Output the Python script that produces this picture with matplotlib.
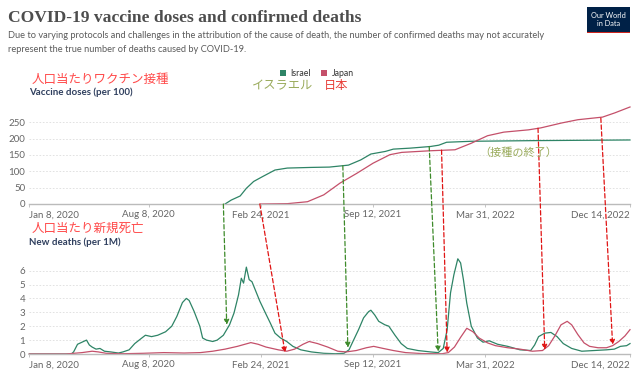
import numpy as np
import matplotlib
matplotlib.use("Agg")
import matplotlib.pyplot as plt
import matplotlib.dates as mdates
from matplotlib.patches import ConnectionPatch, Rectangle

plt.rcParams['font.family'] = ['Lato', 'Noto Sans CJK JP', 'DejaVu Sans']

# ---- data (x values are days since START) ----
START = np.datetime64('2020-01-08')
END = np.datetime64('2022-12-14')

tick_dates = ['2020-01-08', '2020-08-08', '2021-02-24', '2021-09-12', '2022-03-31', '2022-12-14']
tick_labels = ['Jan 8, 2020', 'Aug 8, 2020', 'Feb 24, 2021', 'Sep 12, 2021', 'Mar 31, 2022', 'Dec 14, 2022']

israel_doses_days = [349, 360, 376, 387, 400, 416, 438, 460, 503, 535, 569, 591, 609, 635, 649,
                     679, 715, 730, 744, 788, 900, 1071]
israel_doses = [0, 12, 24.6, 48, 69, 84, 104, 110, 112, 113, 119, 135, 153, 161, 168,
                171, 176, 180, 189, 192, 194, 196]

japan_doses_days = [412, 460, 496, 525, 554, 584, 613, 643, 664, 715, 759, 788, 817, 846, 890,
                    912, 949, 978, 1022, 1044, 1071]
japan_doses = [0, 1, 7, 28, 64, 94, 125, 151, 158, 163, 166, 186, 209, 220, 227,
               233, 248, 258, 266, 279, 297]

israel_deaths_days = [0, 75, 79, 86, 94, 102, 107, 112, 119, 126, 134, 145, 159, 167, 178, 188,
                      199, 207, 218, 229, 243, 254, 263, 273, 280, 285, 294, 304, 309, 316,
                      327, 335, 346, 357, 365, 373, 378, 382, 387, 392, 397, 404, 411, 421,
                      430, 438, 448, 459, 470, 484, 503, 525, 546, 561, 570, 577, 587, 596,
                      605, 609, 616, 623, 634, 641, 652, 663, 674, 693, 715, 729, 738, 745,
                      751, 757, 764, 769, 774, 780, 788, 799, 809, 820, 835, 853, 875, 894,
                      901, 908, 919, 930, 941, 952, 967, 985, 1007, 1029, 1043, 1054, 1065, 1071]
israel_deaths = [0, 0, 0.15, 0.7, 0.85, 1.0, 0.65, 0.5, 0.35, 0.4, 0.2, 0.15, 0.07, 0.15, 0.3, 0.75,
                 1.1, 1.35, 1.25, 1.35, 1.6, 2.0, 2.7, 3.7, 4.0, 3.85, 3.05, 2.0, 1.15, 1.0,
                 0.9, 1.0, 1.35, 2.1, 2.95, 4.25, 5.45, 5.1, 6.25, 5.35, 5.2, 4.5, 3.8, 2.95,
                 2.2, 1.5, 1.15, 0.9, 0.55, 0.3, 0.15, 0.05, 0.02, 0.05, 0.3, 0.9, 1.75, 2.6,
                 3.05, 3.15, 2.8, 2.35, 2.1, 2.0, 1.35, 0.75, 0.4, 0.25, 0.15, 0.1, 0.4, 1.75,
                 4.4, 5.7, 6.85, 6.55, 5.35, 3.65, 2.0, 1.15, 0.85, 0.95, 0.7, 0.55, 0.3, 0.25,
                 0.65, 1.25, 1.5, 1.55, 1.25, 0.75, 0.4, 0.2, 0.25, 0.3, 0.35, 0.55, 0.6, 0.75]

japan_deaths_days = [0, 65, 94, 112, 123, 137, 167, 203, 240, 276, 305, 327, 349, 371, 395, 408,
                     422, 444, 459, 473, 488, 499, 514, 532, 550, 565, 583, 601, 614, 631,
                     649, 671, 700, 736, 747, 758, 769, 780, 791, 802, 817, 831, 853, 875,
                     897, 915, 926, 937, 948, 959, 967, 978, 989, 999, 1014, 1029, 1040,
                     1051, 1062, 1071]
japan_deaths = [0, 0, 0.1, 0.2, 0.15, 0.05, 0.02, 0.05, 0.1, 0.07, 0.1, 0.2, 0.35, 0.55, 0.82, 0.7,
                0.5, 0.3, 0.2, 0.35, 0.7, 0.9, 0.75, 0.5, 0.2, 0.15, 0.25, 0.45, 0.55, 0.4,
                0.25, 0.1, 0.03, 0.02, 0.1, 0.5, 1.2, 1.85, 1.6, 1.15, 0.8, 0.6, 0.45, 0.35,
                0.2, 0.25, 0.6, 1.3, 2.1, 2.35, 2.1, 1.4, 0.8, 0.55, 0.45, 0.45, 0.6,
                0.9, 1.3, 1.75]

# arrows: (day on doses chart, doses value) -> (day on deaths chart, deaths value)
israel_arrows = [(346, 0, 352, 2.1), (559, 117, 568, 0.45), (713, 176, 729, 0.17)]
japan_arrows = [(411, 0, 456, 0.1), (735, 165, 745, 0.1), (907, 232, 919, 0.3), (1019, 263, 1040, 0.65)]

# ---- styles ----
ISRAEL = '#2e8466'
JAPAN = '#c4506a'
ARROW_G = '#3d8a2a'
ARROW_R = '#e01414'
JP_RED = '#ff4a4a'
JP_OLIVE = '#9aab5c'
NAVY = '#2f3f5e'
GREY = '#666666'

W, H = 640, 374


def fx(px):
    return px / W


def fy(py):
    return 1 - py / H


def to_dates(days):
    return START + np.array(days).astype('timedelta64[D]')


def dnum(day):
    return mdates.date2num(START + np.timedelta64(int(day), 'D'))


fig = plt.figure(figsize=(6.4, 3.74), dpi=100)

ax1 = fig.add_axes([fx(29.3), fy(204), fx(630) - fx(29.3), fy(106) - fy(204)])
ax2 = fig.add_axes([fx(29.3), fy(354), fx(630) - fx(29.3), fy(256.7) - fy(354)])

ax1.plot(to_dates(israel_doses_days), israel_doses, color=ISRAEL, lw=0.9, clip_on=False)
ax1.plot(to_dates(japan_doses_days), japan_doses, color=JAPAN, lw=0.9, clip_on=False)
ax2.plot(to_dates(israel_deaths_days), israel_deaths, color=ISRAEL, lw=0.9, clip_on=False)
ax2.plot(to_dates(japan_deaths_days), japan_deaths, color=JAPAN, lw=0.9, clip_on=False)

ax1.set_ylim(0, 300)
ax1.set_yticks([0, 50, 100, 150, 200, 250])
ax2.set_ylim(0, 7)
ax2.set_yticks([0, 1, 2, 3, 4, 5, 6])

for ax in (ax1, ax2):
    ax.set_xlim(START, END)
    ax.set_xticks(np.array(tick_dates, dtype='datetime64[D]'))
    ax.set_xticklabels(tick_labels)
    labs = ax.get_xticklabels()
    labs[0].set_ha('left')
    labs[-1].set_ha('right')
    for s in ('top', 'right', 'left'):
        ax.spines[s].set_visible(False)
    ax.spines['bottom'].set_color('#bbbbbb')
    ax.spines['bottom'].set_linewidth(1.0)
    ax.yaxis.grid(True, linestyle=(0, (2, 2)), color='#dddddd', linewidth=0.6)
    ax.set_axisbelow(True)
    ax.tick_params(axis='y', length=0, pad=3, labelsize=7, labelcolor=GREY)
    ax.tick_params(axis='x', length=2.5, width=0.6, color='#bbbbbb', pad=2,
                   labelsize=7, labelcolor=GREY)
    ax.patch.set_alpha(0)

# arrows linking the two panels
for arrows, col in ((israel_arrows, ARROW_G), (japan_arrows, ARROW_R)):
    for d0, v0, d1, v1 in arrows:
        con = ConnectionPatch(xyA=(dnum(d0), v0), coordsA=ax1.transData,
                              xyB=(dnum(d1), v1), coordsB=ax2.transData,
                              arrowstyle='-|>', mutation_scale=7.5, color=col,
                              linestyle=(0, (3.5, 2)), linewidth=0.9, shrinkA=0, shrinkB=0)
        fig.add_artist(con)

# title, subtitle
fig.text(fx(8), fy(18), 'COVID-19 vaccine doses and confirmed deaths',
         family='Liberation Serif', fontsize=12.6, weight='bold', color='#4d4d4d', va='center')
fig.text(fx(8), fy(36), 'Due to varying protocols and challenges in the attribution of the cause of death, '
         'the number of confirmed deaths may not accurately', fontsize=6.65, color='#5b5b5b', va='center')
fig.text(fx(8), fy(49), 'represent the true number of deaths caused by COVID-19.',
         fontsize=6.65, color='#5b5b5b', va='center')

# logo
fig.add_artist(Rectangle((fx(586.7), fy(33.3)), fx(43.3), 26 / H, transform=fig.transFigure,
                         facecolor='#002147', edgecolor='none'))
fig.add_artist(Rectangle((fx(586.7), fy(33.3)), fx(43.3), 1.8 / H, transform=fig.transFigure,
                         facecolor='#ce261e', edgecolor='none'))
fig.text(fx(608.3), fy(19.5), 'Our World\nin Data', color='white', fontsize=5.3,
         ha='center', va='center', linespacing=1.0)

# legend
for x0, col, name in ((280, ISRAEL, 'Israel'), (321, JAPAN, 'Japan')):
    fig.add_artist(Rectangle((fx(x0), fy(76)), fx(6.3), 6.3 / H, transform=fig.transFigure,
                             facecolor=col, edgecolor='none'))
    fig.text(fx(x0 + 10.5), fy(73), name, fontsize=6.3, color='#333333', va='center')

# axis captions
fig.text(fx(32), fy(79), '人口当たりワクチン接種', family=['Noto Sans CJK JP'],
         fontsize=9, color=JP_RED, va='center')
fig.text(fx(29), fy(92), 'Vaccine doses (per 100)', fontsize=7, color=NAVY,
         weight='bold', va='center')
fig.text(fx(32), fy(228), '人口当たり新規死亡', family=['Noto Sans CJK JP'],
         fontsize=9, color=JP_RED, va='center')
fig.text(fx(29), fy(242), 'New deaths (per 1M)', fontsize=7, color=NAVY,
         weight='bold', va='center')

# japanese annotations
fig.text(fx(252), fy(86), 'イスラエル', family=['Noto Sans CJK JP'], fontsize=8.8,
         color=JP_OLIVE, va='center')
fig.text(fx(324), fy(86), '日本', family=['Noto Sans CJK JP'], fontsize=8.8,
         color='#e8403a', va='center')
fig.text(fx(479), fy(153), '（接種の終了）', family=['Noto Sans CJK JP'], fontsize=8,
         color=JP_OLIVE, va='center')

fig.savefig('out.png', dpi=100)
